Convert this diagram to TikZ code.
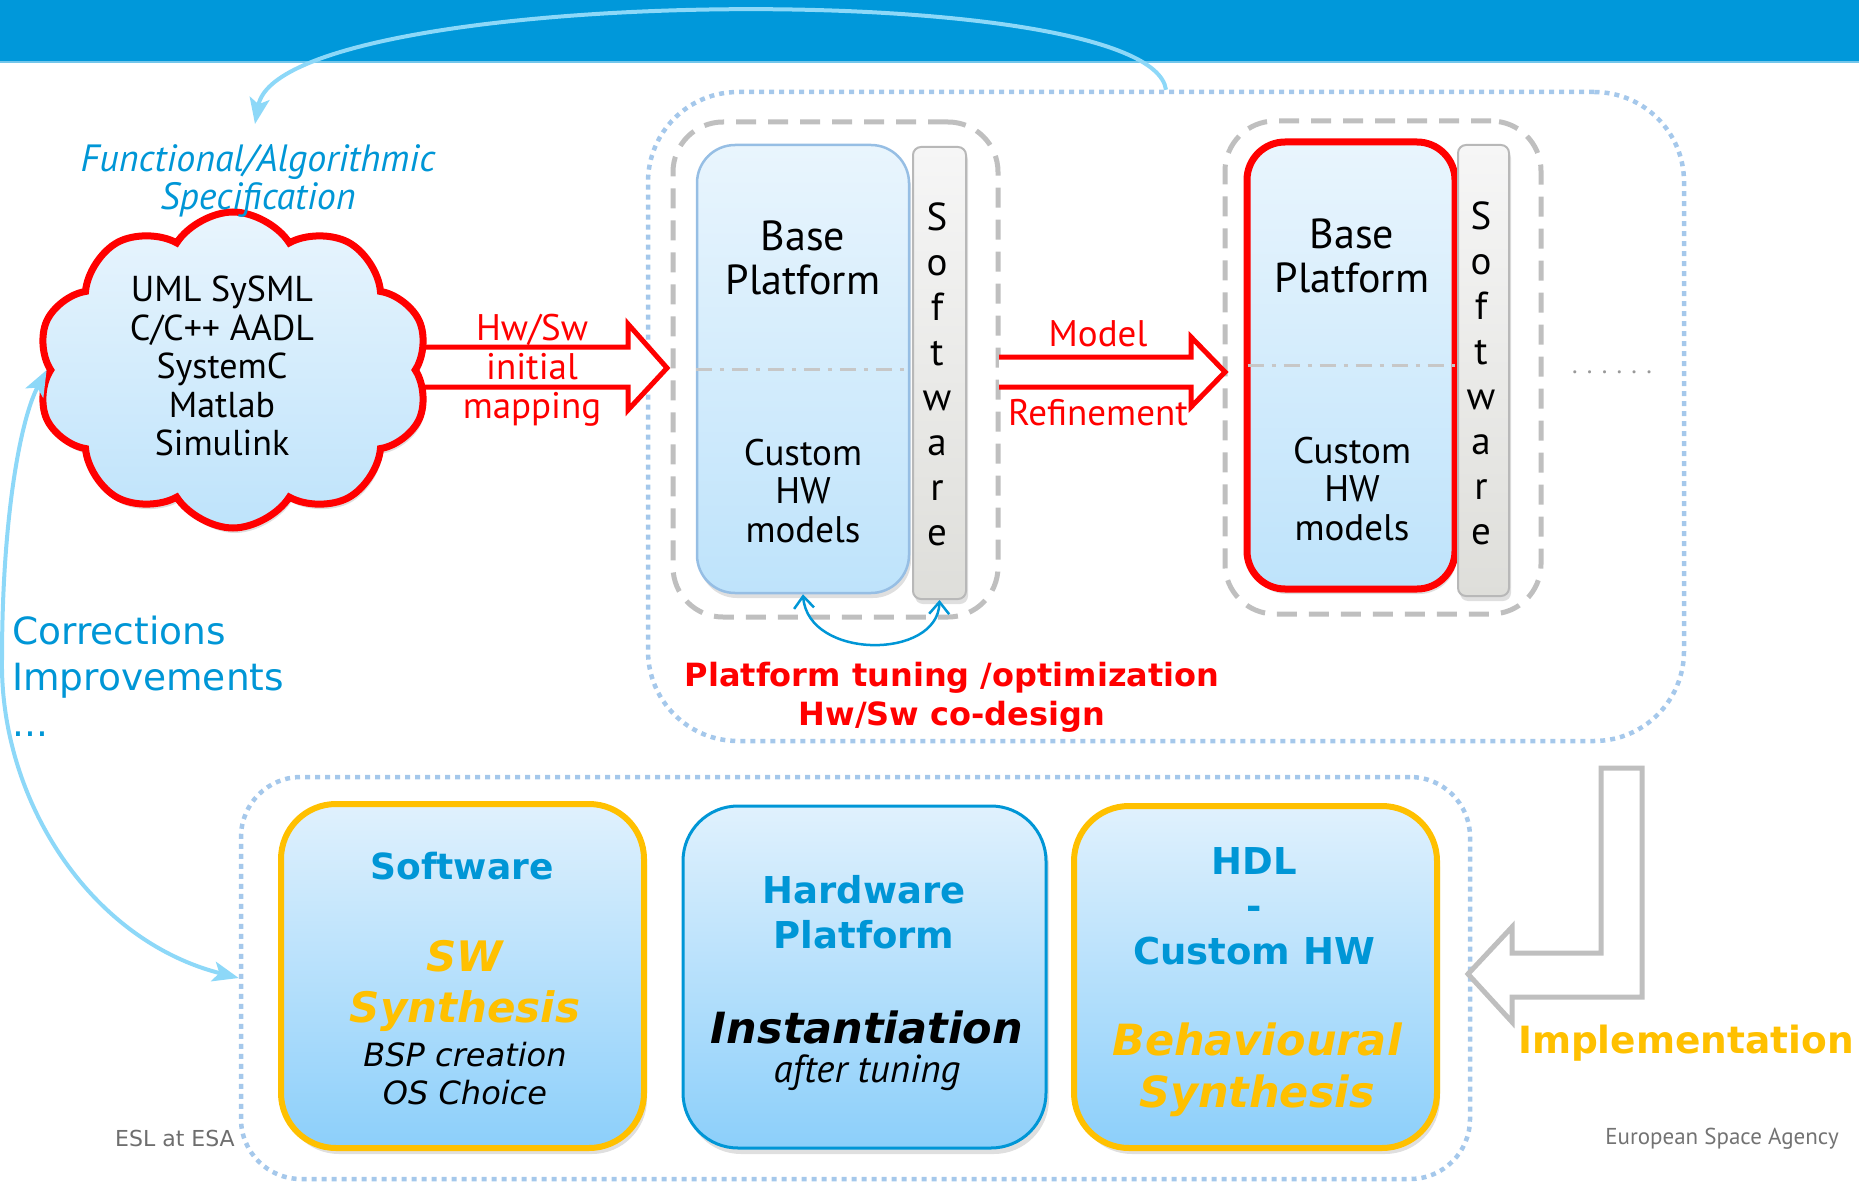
\documentclass[tikz,border=0pt]{standalone}
\usepackage{fontspec}
\setmainfont{PT Sans}
\newfontfamily\dv{DejaVu Sans}
\usetikzlibrary{shapes.symbols,shadows,arrows.meta,calc}
\newcommand\fsz[2]{\fontsize{#1}{#2}\selectfont}
\definecolor{banner}{RGB}{0,152,218}
\definecolor{arcblue}{RGB}{141,216,248}
\definecolor{txtblue}{RGB}{0,150,214}
\definecolor{dotblue}{RGB}{165,200,235}
\definecolor{grayc}{RGB}{191,191,191}
\definecolor{amber}{RGB}{255,192,0}
\definecolor{pftop}{RGB}{233,245,253}
\definecolor{pfbot}{RGB}{190,227,251}
\definecolor{pfborder}{RGB}{150,190,228}
\definecolor{lbtop}{RGB}{224,241,253}
\definecolor{lbbot}{RGB}{140,207,250}
\definecolor{swtop}{RGB}{246,246,246}
\definecolor{swbot}{RGB}{222,222,218}
\definecolor{footgray}{RGB}{110,110,110}
\tikzset{arctip/.tip={Stealth[length=26pt,width=20pt,inset=6pt]},
  barbtip/.tip={Straight Barb[length=12pt,width=20pt]}}
\begin{document}
\begin{tikzpicture}[x=1pt,y=-1pt,
  dotbox/.style={rectangle, draw=dotblue, line width=4.5pt, dash pattern=on 5pt off 5pt},
  grpbox/.style={rectangle, draw=grayc, line width=5pt, dash pattern=on 20pt off 12pt, rounded corners=50pt},
  platbox/.style={rectangle, rounded corners=38pt, top color=pftop, bottom color=pfbot, draw=pfborder, line width=2.5pt,
     drop shadow={shadow xshift=2pt, shadow yshift=-5pt, opacity=.25}},
  swbar/.style={rectangle, rounded corners=8pt, top color=swtop, bottom color=swbot, draw=black!28, line width=2pt,
     drop shadow={shadow xshift=2pt, shadow yshift=-5pt, opacity=.25}},
  lowbox/.style={rectangle, rounded corners=55pt, top color=lbtop, bottom color=lbbot, minimum width=363pt, minimum height=344pt,
     drop shadow={shadow xshift=3pt, shadow yshift=-6pt, opacity=.25}},
  dashdot/.style={draw=black!22, line width=3pt, dash pattern=on 16pt off 8pt on 4pt off 8pt},
  redarrow/.style={draw=red, line width=5pt, fill=white, line join=miter},
  bigarc/.style={draw=arcblue, line width=4pt},
  thinarc/.style={draw=txtblue, line width=2.5pt, barbtip-barbtip}
]
\useasboundingbox (0,0) rectangle (1859,1182);
\fill[banner] (0,0) rectangle (1859,62);
\draw[draw=banner!55!white, line width=2pt] (0,62) -- (1859,62);

% containers
\node[dotbox, rounded corners=90pt, minimum width=1036pt, minimum height=649pt] (upper) at (1166,416.5) {};
\node[dotbox, rounded corners=60pt, minimum width=1229pt, minimum height=402pt] (lower) at (855.5,978) {};
\node[grpbox, minimum width=325pt, minimum height=495pt] (g1) at (835.5,369.5) {};
\node[grpbox, minimum width=316pt, minimum height=493pt] (g2) at (1383,367.5) {};

% platform 1
\node[platbox, minimum width=212pt, minimum height=448pt] (p1) at (803,369) {};
\draw[dashdot] (p1.west) -- (p1.east);
\node[swbar, minimum width=53pt, minimum height=452pt] (s1) at (939.5,373) {};
\node[font=\fsz{39}{45}, align=center, inner sep=0pt] (s1t) at (937,374) {S\\o\\f\\t\\w\\a\\r\\e};
\node[font=\fsz{42}{44}, align=center] (p1a) at (803,258) {Base\\Platform};
\node[font=\fsz{37}{38.5}, align=center] (p1b) at (803,491) {Custom\\HW\\models};

% platform 2
\node[platbox, draw=red, line width=7pt, minimum width=208pt, minimum height=447pt] (p2) at (1351,365.5) {};
\draw[dashdot] ([xshift=4pt]p2.west) -- ([xshift=-4pt]p2.east);
\node[swbar, minimum width=51pt, minimum height=451pt] (s2) at (1483.5,370.5) {};
\node[font=\fsz{39}{45}, align=center, inner sep=0pt] (s2t) at (1481,373) {S\\o\\f\\t\\w\\a\\r\\e};
\node[font=\fsz{42}{44}, align=center] (p2a) at (1352,256) {Base\\Platform};
\node[font=\fsz{37}{38.5}, align=center] (p2b) at (1352,489) {Custom\\HW\\models};

% red block arrows
\draw[redarrow] (425,347) -- (628,347) -- (628,324) -- (667,368) -- (628,410) -- (628,387) -- (425,387);
\draw[redarrow] (999,357) -- (1191,357) -- (1191,337) -- (1225,372) -- (1191,407) -- (1191,387) -- (999,387);
\node[red, font=\fsz{37}{39}, align=center] (hwsw) at (532,370) {Hw/Sw\\initial\\mapping};
\node[red, font=\fsz{37}{39}] (model) at (1098,334) {Model};
\node[red, font=\fsz{37}{39}] (refine) at (1098,413) {Refinement};
\node[black!40, font=\fsz{26}{26}] (dots) at (1612,372) {. . . . . .};

% cloud
\node[cloud, cloud puffs=10, cloud puff arc=115, cloud ignores aspect, draw=red, line width=7pt,
  top color=pftop, bottom color=pfbot, minimum width=392pt, minimum height=316pt,
  drop shadow={shadow xshift=2pt, shadow yshift=-5pt, opacity=.25}] (cloud) at (233,370) {};
\node[font=\fsz{36}{38.5}, align=center] (cloudtxt) at (222,366) {UML SySML\\C/C++ AADL\\SystemC\\Matlab\\Simulink};
\node[txtblue, font=\itshape\fsz{38}{38}, align=center] (spec) at (258,181) {Functional/Algorithmic\\Specification};

% small co-design arc
\draw[thinarc] (p1.south) .. controls (808,660) and (938,660) .. (s1.south);
\node[red, font=\dv\bfseries\fsz{32}{39}, align=center] (tuning) at (952,697) {Platform tuning /optimization\\Hw/Sw co-design};

% feedback arcs
\coordinate (specin) at (255,124);
\draw[bigarc, -arctip] (upper.north) .. controls (1150,-25) and (280,-15) .. (specin);
\draw[bigarc, arctip-arctip] (lower.west) .. controls (90,940) and (0,800) .. (2,660) .. controls (2,520) and (20,420) .. (cloud.west);
\node[txtblue, font=\dv\fsz{37.5}{46}, align=left, anchor=west, inner sep=0pt] (corr) at (12,676) {Corrections\\Improvements\\...};

% lower boxes
\node[lowbox, draw=amber, line width=6pt] (b1) at (462.5,976) {};
\node[lowbox, draw=txtblue, line width=3pt, minimum height=342pt] (b2) at (864.5,977) {};
\node[lowbox, draw=amber, line width=6pt, minimum height=342pt] (b3) at (1255.5,977) {};
\node[txtblue, font=\dv\bfseries\fsz{36}{40}] (b1h) at (462,866) {Software};
\node[amber, font=\dv\bfseries\itshape\fsz{42}{51}, align=center] (b1s) at (465,986) {SW\\Synthesis};
\node[font=\dv\itshape\fsz{32}{38}, align=center] (b1i) at (465,1074) {BSP creation\\OS Choice};
\node[txtblue, font=\dv\bfseries\fsz{37}{45}, align=center] (b2h) at (864,912) {Hardware\\Platform};
\node[font=\dv\bfseries\itshape\fsz{43}{42}] (b2s) at (867,1027) {Instantiation};
\node[font=\itshape\fsz{39}{40}] (b2i) at (867,1073) {after tuning};
\node[txtblue, font=\dv\bfseries\fsz{37}{45}, align=center] (b3h) at (1254,906) {HDL\\-\\Custom HW};
\node[amber, font=\dv\bfseries\itshape\fsz{43}{52}, align=center] (b3s) at (1257,1070) {Behavioural\\Synthesis};

% implementation arrow
\draw[grayc, line width=5pt, line join=miter] (1601,768) -- (1642,768) -- (1642,997) -- (1512,997) -- (1512,1022) -- (1468,974) -- (1512,927) -- (1512,953) -- (1601,953) -- cycle;
\node[amber, font=\dv\bfseries\fsz{37.5}{40}] (impl) at (1686,1043) {Implementation};

% footers
\node[footgray, font=\dv\fsz{22}{24}] (esl) at (175,1138) {ESL at ESA};
\node[black!55, font=\fsz{23}{26}] (esa) at (1722,1139) {European Space Agency};
\end{tikzpicture}
\end{document}
